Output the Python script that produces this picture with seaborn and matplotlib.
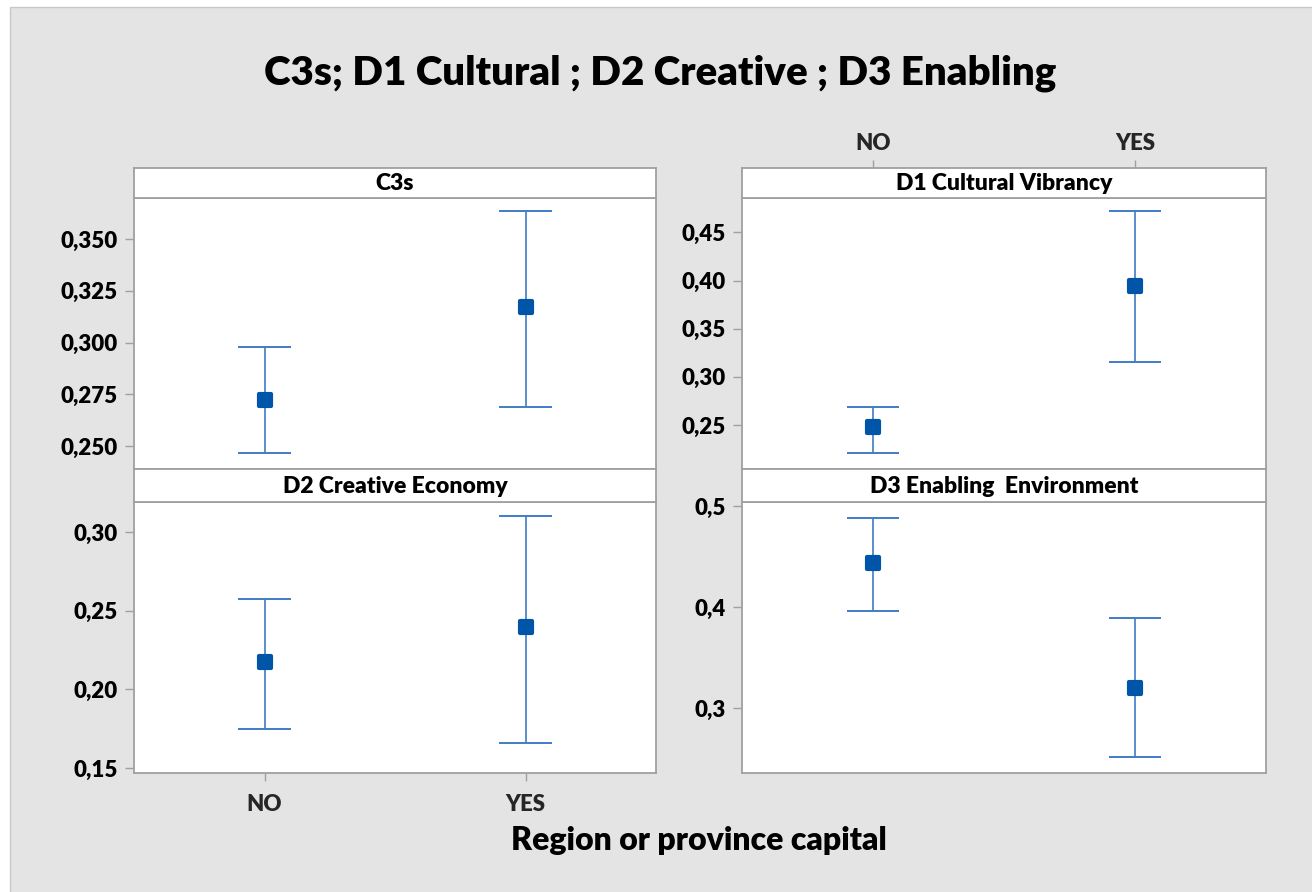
import matplotlib
matplotlib.use("Agg")
import matplotlib.pyplot as plt
from matplotlib.patches import Rectangle
import numpy as np
import pandas as pd
import seaborn as sns

# ---- data -------------------------------------------------------------
groups = ["NO", "YES"]

c3s_mean = [0.2724, 0.3173]
c3s_low = [0.2466, 0.2690]
c3s_high = [0.2981, 0.3633]

d1_mean = [0.2475, 0.3947]
d1_low = [0.2210, 0.3150]
d1_high = [0.2690, 0.4718]

d2_mean = [0.2176, 0.2398]
d2_low = [0.1749, 0.1660]
d2_high = [0.2573, 0.3100]

d3_mean = [0.444, 0.320]
d3_low = [0.396, 0.252]
d3_high = [0.488, 0.389]

c3s_ticks = [0.250, 0.275, 0.300, 0.325, 0.350]
c3s_ticklabels = ["0,250", "0,275", "0,300", "0,325", "0,350"]
d1_ticks = [0.25, 0.30, 0.35, 0.40, 0.45]
d1_ticklabels = ["0,25", "0,30", "0,35", "0,40", "0,45"]
d2_ticks = [0.15, 0.20, 0.25, 0.30]
d2_ticklabels = ["0,15", "0,20", "0,25", "0,30"]
d3_ticks = [0.3, 0.4, 0.5]
d3_ticklabels = ["0,3", "0,4", "0,5"]

title = "C3s; D1 Cultural ; D2 Creative ; D3 Enabling"
xlabel = "Region or province capital"

panels = [
    dict(name="C3s", mean=c3s_mean, low=c3s_low, high=c3s_high,
         ticks=c3s_ticks, labels=c3s_ticklabels, ylim=(0.239, 0.3698)),
    dict(name="D1 Cultural Vibrancy", mean=d1_mean, low=d1_low, high=d1_high,
         ticks=d1_ticks, labels=d1_ticklabels, ylim=(0.2043, 0.4857)),
    dict(name="D2 Creative Economy", mean=d2_mean, low=d2_low, high=d2_high,
         ticks=d2_ticks, labels=d2_ticklabels, ylim=(0.147, 0.319)),
    dict(name="D3 Enabling  Environment", mean=d3_mean, low=d3_low, high=d3_high,
         ticks=d3_ticks, labels=d3_ticklabels, ylim=(0.236, 0.504)),
]

# ---- style ------------------------------------------------------------
sns.set_theme(style="white")
plt.rcParams["font.family"] = ["Lato", "DejaVu Sans"]
plt.rcParams["font.weight"] = "bold"

W, H = 1312, 892
fig = plt.figure(figsize=(W / 100, H / 100), dpi=100, facecolor="white")

BG = "#e4e4e4"
FRAME = "#a0a0a0"
MARK = "#0055a8"
BAR = "#3f7cc6"
TICK_FS = 16
HEAVY = "heavy"

# grey canvas with a thin border on the left/top
fig.patches.append(Rectangle((10 / W, -0.05), 1.1, 1 - 7 / H + 0.05,
                             transform=fig.transFigure, facecolor=BG,
                             edgecolor="#c8c8c8", linewidth=1.0, zorder=-5))


def fx(px):
    return px / W


def fy(py):
    return 1 - py / H


cols = [(134, 656), (742, 1266)]
rows = [((168, 198), (198, 469)), ((469, 502), (502, 773))]

for i, p in enumerate(panels):
    r, c = divmod(i, 2)
    x0, x1 = cols[c]
    (s0, s1), (p0, p1) = rows[r]

    ax = fig.add_axes([fx(x0), fy(p1), fx(x1 - x0), (p1 - p0) / H])
    sax = fig.add_axes([fx(x0), fy(s1), fx(x1 - x0), (s1 - s0) / H])

    df = pd.DataFrame({"group": groups, "mean": p["mean"],
                       "low": p["low"], "high": p["high"]})
    xpos = np.arange(len(groups))

    # interval lines with caps
    ax.vlines(xpos, df["low"], df["high"], color=BAR, linewidth=1.2, zorder=2)
    ax.hlines(df["low"], xpos - 0.1, xpos + 0.1, color=BAR, linewidth=1.4, zorder=2)
    ax.hlines(df["high"], xpos - 0.1, xpos + 0.1, color=BAR, linewidth=1.4, zorder=2)

    # means
    sns.scatterplot(data=df, x="group", y="mean", ax=ax, marker="s", s=72,
                    color=MARK, edgecolor=MARK, linewidth=3.0, zorder=3,
                    legend=False)
    for coll in ax.collections:
        try:
            coll.set_joinstyle("round")
        except Exception:
            pass

    ax.set_xlim(-0.5, 1.5)
    ax.set_ylim(*p["ylim"])
    ax.set_yticks(p["ticks"])
    ax.set_yticklabels(p["labels"])
    ax.set_xlabel("")
    ax.set_ylabel("")
    ax.set_facecolor("white")
    for sp in ax.spines.values():
        sp.set_color(FRAME)
        sp.set_linewidth(1.3)
    ax.tick_params(axis="y", direction="out", length=6.5, width=1.0,
                   color=FRAME, pad=5, labelsize=TICK_FS, labelcolor="black",
                   left=True)

    if i == 2:
        ax.set_xticks(xpos)
        ax.set_xticklabels(groups)
        ax.tick_params(axis="x", direction="out", length=6, width=1.0,
                       color=FRAME, pad=9, labelsize=TICK_FS, bottom=True)
    else:
        ax.set_xticks([])

    for lab in ax.get_yticklabels() + ax.get_xticklabels():
        lab.set_fontweight(HEAVY)

    # strip header
    sax.set_facecolor("white")
    sax.set_xlim(-0.5, 1.5)
    sax.set_ylim(0, 1)
    sax.set_yticks([])
    for sp in sax.spines.values():
        sp.set_color(FRAME)
        sp.set_linewidth(1.3)
    sax.text(0.5, 0.48, p["name"], transform=sax.transAxes, ha="center",
             va="center", fontsize=16.5, fontweight=HEAVY, color="black")
    if i == 1:
        sax.set_xticks(xpos)
        sax.set_xticklabels(groups, fontweight=HEAVY)
        sax.tick_params(axis="x", direction="out", length=6, width=1.0,
                        color=FRAME, pad=4, labelsize=TICK_FS, top=True,
                        labeltop=True, bottom=False, labelbottom=False)
    else:
        sax.set_xticks([])

fig.text(fx(660), fy(85), title, ha="center", va="baseline",
         fontsize=29, fontweight=HEAVY, color="black")
fig.text(fx(699), fy(850), xlabel, ha="center", va="baseline",
         fontsize=23, fontweight=HEAVY, color="black")

fig.savefig("out.png", dpi=100, facecolor=fig.get_facecolor())
